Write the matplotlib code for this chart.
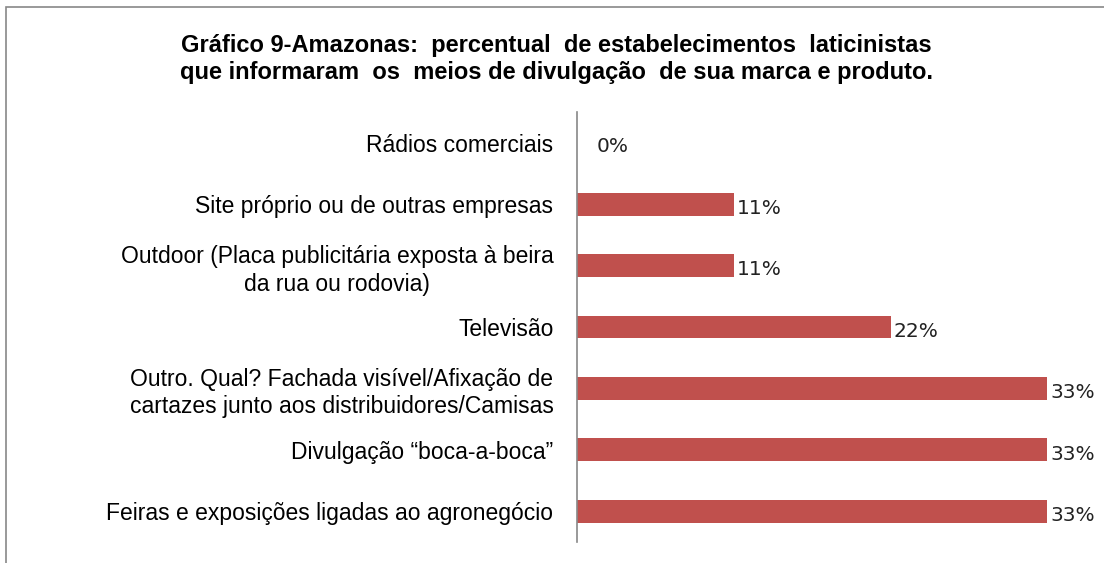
import matplotlib.pyplot as plt
from matplotlib.patches import Rectangle

categorias = [
    'Feiras e exposições ligadas ao agronegócio',
    'Divulgação “boca-a-boca”',
    'Outro. Qual? Fachada visível/Afixação de\ncartazes junto aos distribuidores/Camisas',
    'Televisão',
    'Outdoor (Placa publicitária exposta à beira\nda rua ou rodovia)',
    'Site próprio ou de outras empresas',
    'Rádios comerciais',
]
percentuais = [33, 33, 33, 22, 11, 11, 0]

titulo = ('Gráfico 9-Amazonas:  percentual  de estabelecimentos  laticinistas\n'
          'que informaram  os  meios de divulgação  de sua marca e produto.')

W, H = 1104, 563
fig = plt.figure(figsize=(W / 100, H / 100), dpi=100)

# moldura do grafico (cortada a direita e embaixo)
fig.patches.append(Rectangle((6 / W, -0.05), 1.2, (H - 7) / H + 0.05,
                             transform=fig.transFigure, fill=False,
                             edgecolor='#888888', linewidth=1.2))

ax = fig.add_axes([577 / W, 1 - 542 / H, (1076 - 577) / W, (542 - 112) / H])
y = range(len(categorias))
ax.barh(y, percentuais, height=0.37, color='#C0504D')
ax.set_xlim(0, 35)
ax.set_ylim(-0.5, len(categorias) - 0.5)

for yi, v in zip(y, percentuais):
    # o Excel afasta o rotulo do valor zero
    dx = 14 if v == 0 else 2
    ax.annotate(f'{v}%', (v, yi), xytext=(dx, -3), textcoords='offset points',
                va='center', ha='left', fontsize=14.5, family='DejaVu Sans',
                color='#222222')

ax.set_yticks(list(y))
ax.set_yticklabels(categorias, fontsize=16.5, family='Liberation Sans',
                   multialignment='center', linespacing=1.25)
ax.tick_params(axis='y', length=0, pad=17)
ax.set_xticks([])
for s in ['top', 'right', 'bottom']:
    ax.spines[s].set_visible(False)
ax.spines['left'].set_color('#888888')
ax.spines['left'].set_linewidth(1.2)

fig.text(556 / W, 1 - 59 / H, titulo, ha='center', va='center',
         fontsize=17, fontweight='bold', family='Liberation Sans',
         linespacing=1.2)

fig.savefig('out.png', dpi=100)
